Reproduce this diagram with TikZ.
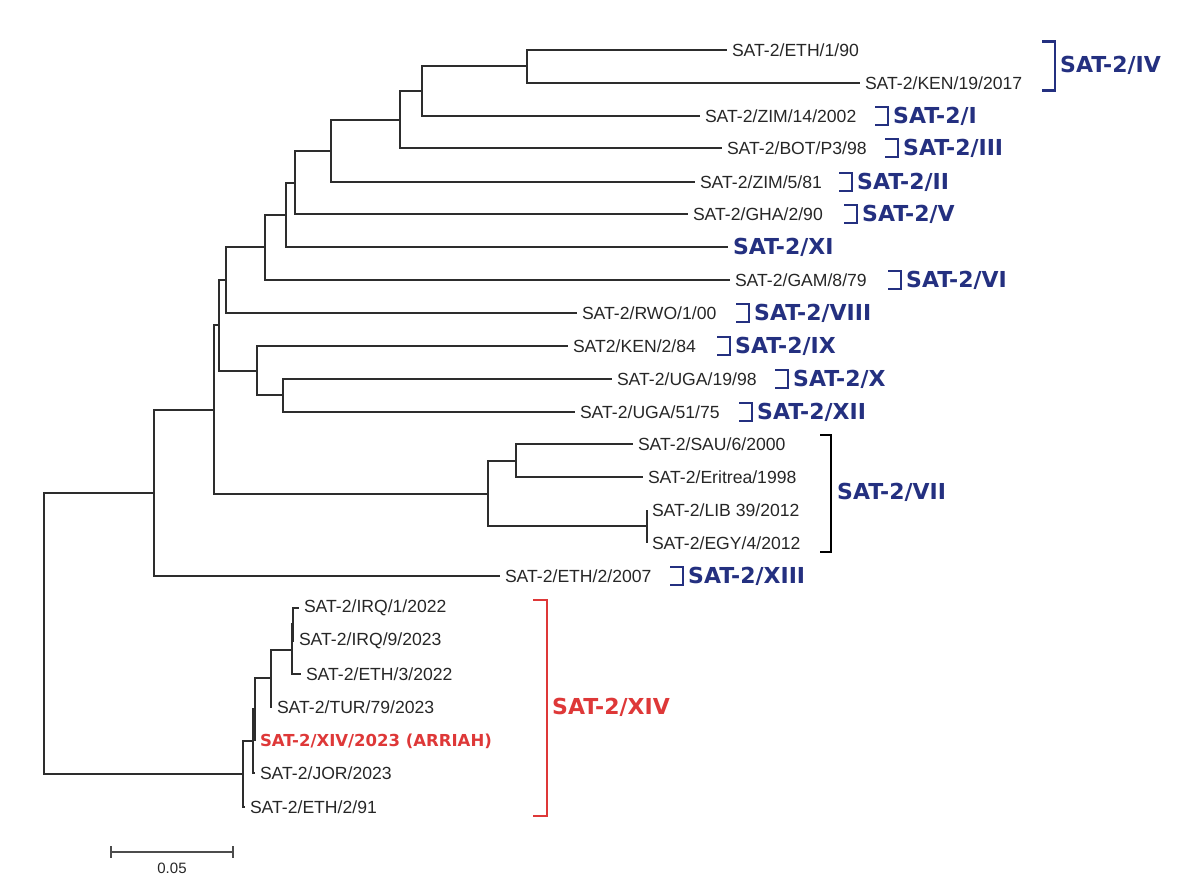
\documentclass[tikz,border=0pt]{standalone}
\usepackage{fontspec}
\setmainfont{Liberation Sans}
\newfontfamily\cladefont{DejaVu Sans}
\definecolor{cladeblue}{RGB}{36,48,128}
\definecolor{cladered}{RGB}{222,56,56}
\definecolor{branchgray}{RGB}{45,45,45}
\tikzset{
  branch/.style={draw=branchgray, line width=1.5pt},
  leaf/.style={anchor=west, inner sep=0pt, outer sep=5pt, text=black!85,
    font=\fontsize{17.6}{20}\selectfont},
  clade/.style={anchor=west, inner sep=0pt, text=cladeblue,
    font=\cladefont\bfseries\fontsize{22}{25}\selectfont},
  brk/.style={draw=cladeblue, line width=2.6pt},
}

\begin{document}
\begin{tikzpicture}[x=1pt, y=-1pt]
\useasboundingbox (0,0) rectangle (1200,889);

% internal nodes
\coordinate (root) at (44,633);
\coordinate (nL) at (154,493);
\coordinate (nK) at (214,410);
\coordinate (nI) at (219,325);
\coordinate (nH) at (226,280);
\coordinate (nG) at (265,247);
\coordinate (nF) at (286,215);
\coordinate (nE) at (295,183);
\coordinate (nD) at (331,151);
\coordinate (nC) at (400,120);
\coordinate (nB) at (422,91);
\coordinate (nA) at (527,66);
\coordinate (nJ) at (257,371);
\coordinate (nM) at (283,395);
\coordinate (nN) at (488,494);
\coordinate (nO) at (516,461);
\coordinate (nP) at (647,526);
\coordinate (nQ) at (243,774);
\coordinate (nR) at (253,741);
\coordinate (nT) at (255,709);
\coordinate (nS) at (271,678);
\coordinate (nU) at (292,650);
\coordinate (nV) at (293,624);

% leaves
\node[leaf] (eth190) at (727,50) {SAT-2/ETH/1/90};
\node[leaf] (ken19) at (860,83) {SAT-2/KEN/19/2017};
\node[leaf] (zim14) at (700,116) {SAT-2/ZIM/14/2002};
\node[leaf] (botp3) at (722,148) {SAT-2/BOT/P3/98};
\node[leaf] (zim5) at (695,182) {SAT-2/ZIM/5/81};
\node[leaf] (gha2) at (688,214) {SAT-2/GHA/2/90};
\node[leaf, text=cladeblue, font=\cladefont\bfseries\fontsize{22}{25}\selectfont] (xi) at (728,247) {SAT-2/XI};
\node[leaf] (gam8) at (730,280) {SAT-2/GAM/8/79};
\node[leaf] (rwo1) at (577,313) {SAT-2/RWO/1/00};
\node[leaf] (ken2) at (568,346) {SAT2/KEN/2/84};
\node[leaf] (uga19) at (612,379) {SAT-2/UGA/19/98};
\node[leaf] (uga51) at (575,412) {SAT-2/UGA/51/75};
\node[leaf] (sau6) at (633,444) {SAT-2/SAU/6/2000};
\node[leaf] (eri) at (643,477) {SAT-2/Eritrea/1998};
\node[leaf] (lib39) at (647,510) {SAT-2/LIB 39/2012};
\node[leaf] (egy4) at (647,543) {SAT-2/EGY/4/2012};
\node[leaf] (eth2007) at (500,576) {SAT-2/ETH/2/2007};
\node[leaf] (irq1) at (299,608) {SAT-2/IRQ/1/2022};
\node[leaf] (irq9) at (294,641) {SAT-2/IRQ/9/2023};
\node[leaf] (eth3) at (301,674) {SAT-2/ETH/3/2022};
\node[leaf] (tur79) at (272,707) {SAT-2/TUR/79/2023};
\node[leaf, text=cladered, font=\cladefont\bfseries\fontsize{16.5}{20}\selectfont] (arriah) at (255,741) {SAT-2/XIV/2023 (ARRIAH)};
\node[leaf] (jor) at (255,773) {SAT-2/JOR/2023};
\node[leaf] (eth291) at (245,807) {SAT-2/ETH/2/91};

% branches
\draw[branch] (root) |- (nL);
\draw[branch] (root) |- (nQ);
\draw[branch] (nL) |- (nK);
\draw[branch] (nL) |- (eth2007.west);
\draw[branch] (nK) |- (nI);
\draw[branch] (nK) |- (nN);
\draw[branch] (nI) |- (nH);
\draw[branch] (nI) |- (nJ);
\draw[branch] (nH) |- (nG);
\draw[branch] (nH) |- (rwo1.west);
\draw[branch] (nG) |- (nF);
\draw[branch] (nG) |- (gam8.west);
\draw[branch] (nF) |- (nE);
\draw[branch] (nF) |- (xi.west);
\draw[branch] (nE) |- (nD);
\draw[branch] (nE) |- (gha2.west);
\draw[branch] (nD) |- (nC);
\draw[branch] (nD) |- (zim5.west);
\draw[branch] (nC) |- (nB);
\draw[branch] (nC) |- (botp3.west);
\draw[branch] (nB) |- (nA);
\draw[branch] (nB) |- (zim14.west);
\draw[branch] (nA) |- (eth190.west);
\draw[branch] (nA) |- (ken19.west);
\draw[branch] (nJ) |- (ken2.west);
\draw[branch] (nJ) |- (nM);
\draw[branch] (nM) |- (uga19.west);
\draw[branch] (nM) |- (uga51.west);
\draw[branch] (nN) |- (nO);
\draw[branch] (nN) |- (nP);
\draw[branch] (nO) |- (sau6.west);
\draw[branch] (nO) |- (eri.west);
\draw[branch] (nP) |- (lib39.west);
\draw[branch] (nP) |- (egy4.west);
\draw[branch] (nQ) |- (nR);
\draw[branch] (nQ) |- (eth291.west);
\draw[branch] (nR) |- (nT);
\draw[branch] (nR) |- (jor.west);
\draw[branch] (nT) |- (nS);
\draw[branch] (nT) |- (arriah.west);
\draw[branch] (nS) |- (nU);
\draw[branch] (nS) |- (tur79.west);
\draw[branch] (nU) |- (nV);
\draw[branch] (nU) |- (eth3.west);
\draw[branch] (nV) |- (irq1.west);
\draw[branch] (nV) |- (irq9.west);

% clade labels
\node[clade] (cIV) at (1060,65) {SAT-2/IV};
\node[clade] (cI) at (893,116) {SAT-2/I};
\node[clade] (cIII) at (903,148) {SAT-2/III};
\node[clade] (cII) at (857,182) {SAT-2/II};
\node[clade] (cV) at (862,214) {SAT-2/V};
\node[clade] (cVI) at (906,280) {SAT-2/VI};
\node[clade] (cVIII) at (754,313) {SAT-2/VIII};
\node[clade] (cIX) at (735,346) {SAT-2/IX};
\node[clade] (cX) at (793,379) {SAT-2/X};
\node[clade] (cXII) at (757,412) {SAT-2/XII};
\node[clade] (cVII) at (837,492) {SAT-2/VII};
\node[clade] (cXIII) at (688,576) {SAT-2/XIII};
\node[clade, text=cladered] (cXIV) at (552,707) {SAT-2/XIV};

\foreach \c in {cI,cIII,cII,cV,cVI,cVIII,cIX,cX,cXII,cXIII}
  \draw[brk] (\c.west) ++(-18,-9) -| ++(13,18) -- ++(-13,0);
\draw[brk] (cIV.west) ++(-18,-23.5) -| ++(13,49) -- ++(-13,0);
\draw[brk, draw=black] (cVII.west) ++(-17,-57) -| ++(11,117) -- ++(-11,0);
\draw[brk, draw=cladered] (cXIV.west) ++(-19,-107) -| ++(14,216) -- ++(-14,0);

% scale bar
\coordinate (sb0) at (111,852);
\coordinate (sb1) at (233,852);
\draw[branch, line width=1.2pt, draw=black!70] (sb0) -- (sb1);
\draw[branch, line width=1.2pt, draw=black!70] (sb0) ++(0,-6) -- ++(0,12);
\draw[branch, line width=1.2pt, draw=black!70] (sb1) ++(0,-6) -- ++(0,12);
\node[font=\fontsize{15}{17}\selectfont, text=black!85, inner sep=0pt] (sblabel) at (172,868) {0.05};
\end{tikzpicture}
\end{document}
